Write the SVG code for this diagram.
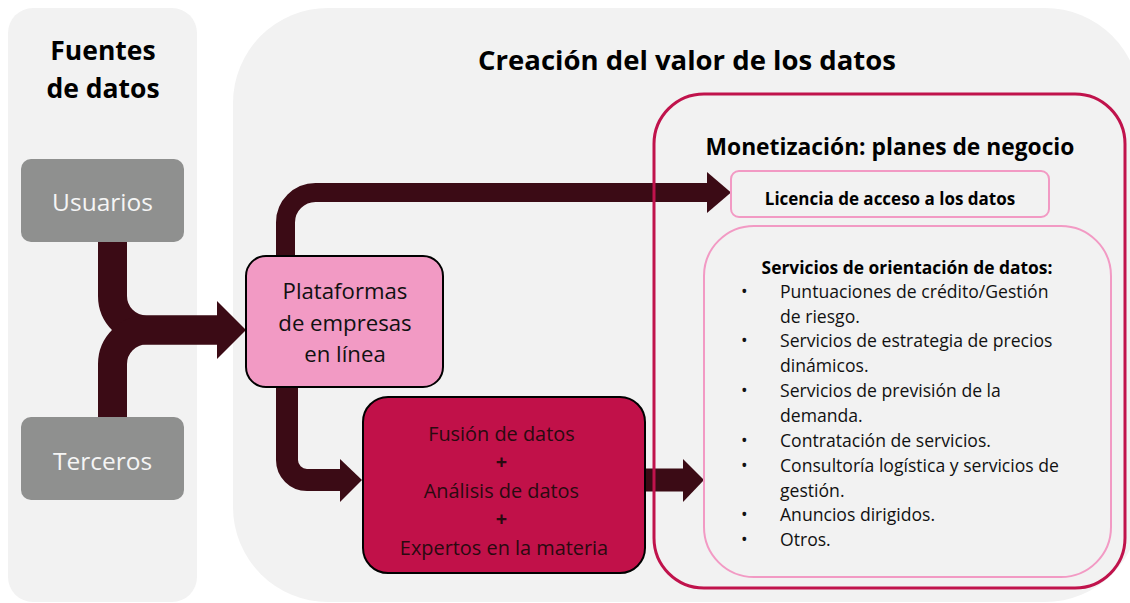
<svg xmlns="http://www.w3.org/2000/svg" width="1130" height="603" viewBox="0 0 1130 603">
<defs>
<style>
.panel{fill:#f2f2f2;}
.src{fill:#8f908f;}
.srct{font-family:"Open Sans","Noto Sans",sans-serif;font-size:24.5px;fill:#f5f5f5;text-anchor:middle;}
.title{font-family:"Open Sans","Noto Sans",sans-serif;font-weight:bold;fill:#000;text-anchor:middle;}
.body{font-family:"Open Sans","Noto Sans",sans-serif;fill:#111;}
.flow{fill:none;stroke:#3b0b15;}
.head{fill:#3b0b15;}
</style>
</defs>
<rect class="panel" x="8" y="8" width="189" height="594" rx="25"/>
<rect class="panel" x="233" y="8" width="907" height="594" rx="95"/>
<text class="title" x="103" y="60" font-size="26.5">Fuentes</text>
<text class="title" x="103" y="98" font-size="26.5">de datos</text>
<text class="title" x="687" y="70" font-size="27.5">Creación del valor de los datos</text>

<g id="connectors">
<path class="flow" stroke-width="29" d="M112.5,242 V296 A34,34 0 0 0 146.5,330 H218"/>
<path class="flow" stroke-width="29" d="M112.5,417 V364 A34,34 0 0 1 146.5,330 H218"/>
<polygon class="head" points="217,301 246,330 217,359"/>
<path class="flow" stroke-width="19" d="M285.5,257 V222.5 A30,30 0 0 1 315.5,192.5 H708"/>
<polygon class="head" points="707,172 731,192.5 707,213"/>
<path class="flow" stroke-width="22" d="M287,386 V460 A20,20 0 0 0 307,480 H341"/>
<polygon class="head" points="340,459 362,480 340,502"/>
<path class="flow" stroke-width="23" d="M645,480 H684"/>
<polygon class="head" points="683,459 704,480 683,502"/>
</g>

<g id="usuarios">
<rect class="src" x="21" y="159" width="163" height="83" rx="10"/>
<text class="srct" x="102.5" y="211">Usuarios</text>
</g>
<g id="terceros">
<rect class="src" x="21" y="417" width="163" height="83" rx="10"/>
<text class="srct" x="102.5" y="470">Terceros</text>
</g>

<g id="plataformas">
<rect x="246" y="256" width="197" height="131" rx="20" fill="#f29ac4" stroke="#000" stroke-width="2"/>
<text class="body" font-size="22.2" text-anchor="middle" x="345" y="299">Plataformas</text>
<text class="body" font-size="22.2" text-anchor="middle" x="345" y="331">de empresas</text>
<text class="body" font-size="22.2" text-anchor="middle" x="345" y="362">en línea</text>
</g>

<g id="fusion">
<rect x="363" y="397" width="282" height="176" rx="25" fill="#c11149" stroke="#000" stroke-width="2"/>
<text font-family="Open Sans, Noto Sans, sans-serif" font-size="19.9" fill="#2a0a10" text-anchor="middle">
<tspan x="504" y="441">Fusión de datos</tspan>
<tspan x="504" y="469" font-weight="bold">+</tspan>
<tspan x="504" y="498">Análisis de datos</tspan>
<tspan x="504" y="526" font-weight="bold">+</tspan>
<tspan x="504" y="555">Expertos en la materia</tspan>
</text>
</g>

<g id="monetizacion">
<rect x="654" y="94" width="471" height="494" rx="50" fill="none" stroke="#c0134c" stroke-width="3"/>
<text class="title" x="890" y="155" font-size="22.8">Monetización: planes de negocio</text>
</g>

<g id="licencia">
<rect x="731" y="171" width="318" height="46" rx="8" fill="#f2f2f2" stroke="#f29ac4" stroke-width="2"/>
<text class="title" x="890" y="205" font-size="17">Licencia de acceso a los datos</text>
</g>

<g id="servicios">
<rect x="704" y="226" width="407" height="351" rx="50" fill="#f2f2f2" stroke="#f29ac4" stroke-width="2"/>
<text class="title" x="907" y="274" font-size="17.4">Servicios de orientación de datos:</text>
<g class="body" font-size="17.6">
<text x="741" y="298">•</text><text x="780" y="298">Puntuaciones de crédito/Gestión</text>
<text x="780" y="323">de riesgo.</text>
<text x="741" y="347">•</text><text x="780" y="347">Servicios de estrategia de precios</text>
<text x="780" y="372">dinámicos.</text>
<text x="741" y="397">•</text><text x="780" y="397">Servicios de previsión de la</text>
<text x="780" y="422">demanda.</text>
<text x="741" y="447">•</text><text x="780" y="447">Contratación de servicios.</text>
<text x="741" y="472">•</text><text x="780" y="472">Consultoría logística y servicios de</text>
<text x="780" y="497">gestión.</text>
<text x="741" y="521">•</text><text x="780" y="521">Anuncios dirigidos.</text>
<text x="741" y="546">•</text><text x="780" y="546">Otros.</text>
</g>
</g>
</svg>
